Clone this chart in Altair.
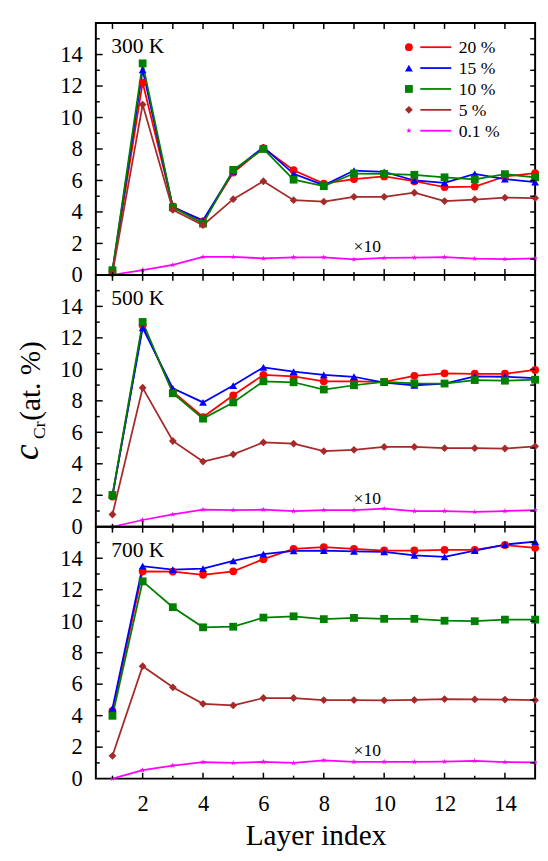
import altair as alt
import pandas as pd

FONT = "Liberation Serif, Times New Roman, Times, serif"
LAYERS = list(range(1, 16))
SERIES = ["20 %", "15 %", "10 %", "5 %", "0.1 %"]
COLORS = ["#ff0000", "#0000ff", "#008000", "#a52a2a", "#ff00ff"]
STAR = ("M0,-0.75L0.17,-0.235L0.713,-0.232L0.276,0.09L0.441,0.607L0,0.29"
        "L-0.441,0.607L-0.276,0.09L-0.713,-0.232L-0.17,-0.235Z")
SHAPES = ["circle", "triangle-up", "square", "diamond", STAR]
TEMPS = ["300 K", "500 K", "700 K"]
SCALE_NOTE = ["×10"]
YTITLE_PARTS = ["c", "Cr", "(at. %)"]

T300_20 = [0.25, 12.22, 4.35, 3.4, 6.5, 8.05, 6.65, 5.8, 6.09, 6.26, 5.95, 5.58, 5.61, 6.25, 6.46]
T300_15 = [0.25, 13.03, 4.3, 3.47, 6.6, 8.12, 6.42, 5.7, 6.63, 6.55, 6.0, 5.85, 6.42, 6.09, 5.89]
T300_10 = [0.3, 13.44, 4.29, 3.26, 6.67, 8.0, 6.05, 5.64, 6.44, 6.42, 6.36, 6.2, 6.07, 6.4, 6.2]
T300_5 = [0.1, 10.82, 4.13, 3.16, 4.81, 5.95, 4.75, 4.65, 4.96, 4.96, 5.22, 4.69, 4.79, 4.91, 4.88]
T300_01 = [0.0, 0.31, 0.64, 1.15, 1.15, 1.05, 1.12, 1.12, 0.99, 1.08, 1.1, 1.13, 1.03, 1.0, 1.05]

T500_20 = [1.92, 12.8, 8.58, 6.97, 8.35, 9.65, 9.55, 9.24, 9.24, 9.2, 9.59, 9.75, 9.72, 9.72, 9.96]
T500_15 = [2.0, 12.64, 8.79, 7.9, 8.97, 10.13, 9.86, 9.65, 9.53, 9.15, 8.99, 9.1, 9.55, 9.53, 9.44]
T500_10 = [2.02, 13.01, 8.48, 6.87, 7.9, 9.24, 9.18, 8.72, 8.99, 9.2, 9.11, 9.1, 9.32, 9.28, 9.34]
T500_5 = [0.78, 8.83, 5.45, 4.14, 4.6, 5.36, 5.28, 4.8, 4.89, 5.07, 5.07, 4.99, 4.99, 4.97, 5.11]
T500_01 = [0.0, 0.43, 0.78, 1.09, 1.05, 1.09, 1.0, 1.05, 1.05, 1.15, 1.0, 1.0, 0.95, 1.0, 1.05]

T700_20 = [4.3, 13.17, 13.15, 12.95, 13.17, 13.94, 14.6, 14.7, 14.6, 14.49, 14.49, 14.53, 14.53, 14.84, 14.66]
T700_15 = [4.46, 13.5, 13.28, 13.34, 13.83, 14.26, 14.47, 14.49, 14.43, 14.4, 14.18, 14.08, 14.49, 14.87, 15.05]
T700_10 = [3.99, 12.53, 10.89, 9.61, 9.65, 10.23, 10.31, 10.13, 10.21, 10.15, 10.15, 10.03, 10.0, 10.1, 10.1]
T700_5 = [1.45, 7.14, 5.8, 4.75, 4.65, 5.12, 5.12, 4.99, 4.99, 4.97, 5.0, 5.05, 5.03, 5.02, 4.98]
T700_01 = [0.0, 0.54, 0.83, 1.04, 1.0, 1.07, 1.0, 1.16, 1.07, 1.07, 1.07, 1.08, 1.12, 1.05, 1.03]

PANELS = [
    [T300_20, T300_15, T300_10, T300_5, T300_01],
    [T500_20, T500_15, T500_10, T500_5, T500_01],
    [T700_20, T700_15, T700_10, T700_5, T700_01],
]

X_LABELS = [2, 4, 6, 8, 10, 12, 14]
X_ALL = list(range(1, 15))
X_MINOR = [1, 3, 5, 7, 9, 11, 13]
Y_LABELS = [0, 2, 4, 6, 8, 10, 12, 14]
Y_MAJOR = [2, 4, 6, 8, 10, 12, 14]
Y_MINOR = [1, 3, 5, 7, 9, 11, 13, 15]

W = 450
H = 258


def panel(i):
    rows = []
    for name, vals in zip(SERIES, PANELS[i]):
        for lay, v in zip(LAYERS, vals):
            rows.append({"layer": lay, "c": v, "series": name})
    df = pd.DataFrame(rows)

    xs = alt.Scale(domain=[0.45, 15], nice=False, zero=False)
    ys = alt.Scale(domain=[0, 16], nice=False, zero=False)
    yaxis = alt.Axis(values=Y_LABELS, ticks=False, domain=False, grid=False,
                     labelFont=FONT, labelFontSize=23, labelColor="black", labelPadding=14,
                     title=None)
    if i == 2:
        xaxis = alt.Axis(values=X_LABELS, ticks=False, domain=False, grid=False,
                         labelFont=FONT, labelFontSize=23, labelColor="black", labelPadding=15,
                         title="Layer index", titleFont=FONT, titleFontSize=30,
                         titleFontWeight="normal", titleColor="black",
                         titleBaseline="alphabetic", titleY=68)
        x = alt.X("layer:Q", scale=xs, axis=xaxis)
    else:
        x = alt.X("layer:Q", scale=xs, axis=None)
    y = alt.Y("c:Q", scale=ys, axis=yaxis)

    lines = alt.Chart(df).mark_line(strokeWidth=1.8).encode(
        x=x, y=y,
        stroke=alt.Stroke("series:N", scale=alt.Scale(domain=SERIES, range=COLORS), legend=None),
    )
    pts = alt.Chart(df).mark_point(filled=True, opacity=1, strokeWidth=0, size=64).encode(
        x=x, y=y,
        fill=alt.Fill("series:N", scale=alt.Scale(domain=SERIES, range=COLORS), legend=None),
        shape=alt.Shape("series:N", scale=alt.Scale(domain=SERIES, range=SHAPES), legend=None),
    )

    xall = alt.Chart(pd.DataFrame({"layer": X_ALL}))
    xmaj = alt.Chart(pd.DataFrame({"layer": X_LABELS}))
    xmin = alt.Chart(pd.DataFrame({"layer": X_MINOR}))
    ymaj = alt.Chart(pd.DataFrame({"c": Y_MAJOR}))
    ymin = alt.Chart(pd.DataFrame({"c": Y_MINOR}))
    vt = dict(color="black", thickness=1.5, orient="vertical", opacity=1)
    ht = dict(color="black", thickness=1.5, orient="horizontal", opacity=1)
    ticks = [
        xall.mark_tick(size=6, **vt).encode(x=x, y=alt.value(3)),
        xmaj.mark_tick(size=6, **vt).encode(x=x, y=alt.value(H - 3)),
        xmin.mark_tick(size=3, **vt).encode(x=x, y=alt.value(H - 1.5)),
        ymaj.mark_tick(size=7, **ht).encode(y=y, x=alt.value(3.5)),
        ymin.mark_tick(size=4, **ht).encode(y=y, x=alt.value(2)),
        ymaj.mark_tick(size=5, **ht).encode(y=y, x=alt.value(W - 2.5)),
        ymin.mark_tick(size=5, **ht).encode(y=y, x=alt.value(W - 2.5)),
    ]

    temp = alt.Chart(pd.DataFrame({"t": [TEMPS[i]]})).mark_text(
        font=FONT, fontSize=22, align="left", baseline="alphabetic", color="black"
    ).encode(text="t:N", x=alt.value(15.7), y=alt.value(30.5))
    note = alt.Chart(pd.DataFrame({"t": SCALE_NOTE})).mark_text(
        font=FONT, fontSize=18, align="left", baseline="alphabetic", color="black"
    ).encode(text="t:N", x=alt.value(264), y=alt.value(235))

    layers = [lines, pts] + ticks + [temp, note]

    if i == 0:
        for k, (name, col, shp) in enumerate(zip(SERIES, COLORS, SHAPES)):
            ry = 24.7 + 21.4 * k
            ld = alt.Chart(pd.DataFrame({"series": [name]}))
            layers.append(ld.mark_point(filled=True, opacity=1, strokeWidth=0, size=64,
                                        shape=shp, color=col)
                          .encode(x=alt.value(320.7), y=alt.value(ry)))
            layers.append(ld.mark_tick(color=col, thickness=1.8, size=31.7,
                                       orient="horizontal", opacity=1)
                          .encode(x=alt.value(348.2), y=alt.value(ry)))
            layers.append(ld.mark_text(font=FONT, fontSize=18, align="left", baseline="middle",
                                       color="black")
                          .encode(text="series:N", x=alt.value(371.7), y=alt.value(ry + 1)))

    if i == 1:
        specs = [(YTITLE_PARTS[0], 36, "italic", -59.5, 189.5),
                 (YTITLE_PARTS[1], 18, "normal", -52.5, 168),
                 (YTITLE_PARTS[2], 30, "normal", -57, 149.5)]
        for txt, fs, style, px, py in specs:
            layers.append(
                alt.Chart(pd.DataFrame({"t": [txt]})).mark_text(
                    font=FONT, fontSize=fs, fontStyle=style, angle=270, align="left",
                    baseline="alphabetic", color="black"
                ).encode(text="t:N", x=alt.value(px), y=alt.value(py))
            )

    return alt.layer(*layers).properties(width=W, height=H)


chart = alt.vconcat(panel(0), panel(1), panel(2), spacing=0, bounds="flush").properties(
    padding={"left": 0, "top": 4, "right": 0, "bottom": 0},
).configure_view(
    stroke="black", strokeWidth=2
)

chart.save("out.html", embed_options={"renderer": "svg", "actions": False})
